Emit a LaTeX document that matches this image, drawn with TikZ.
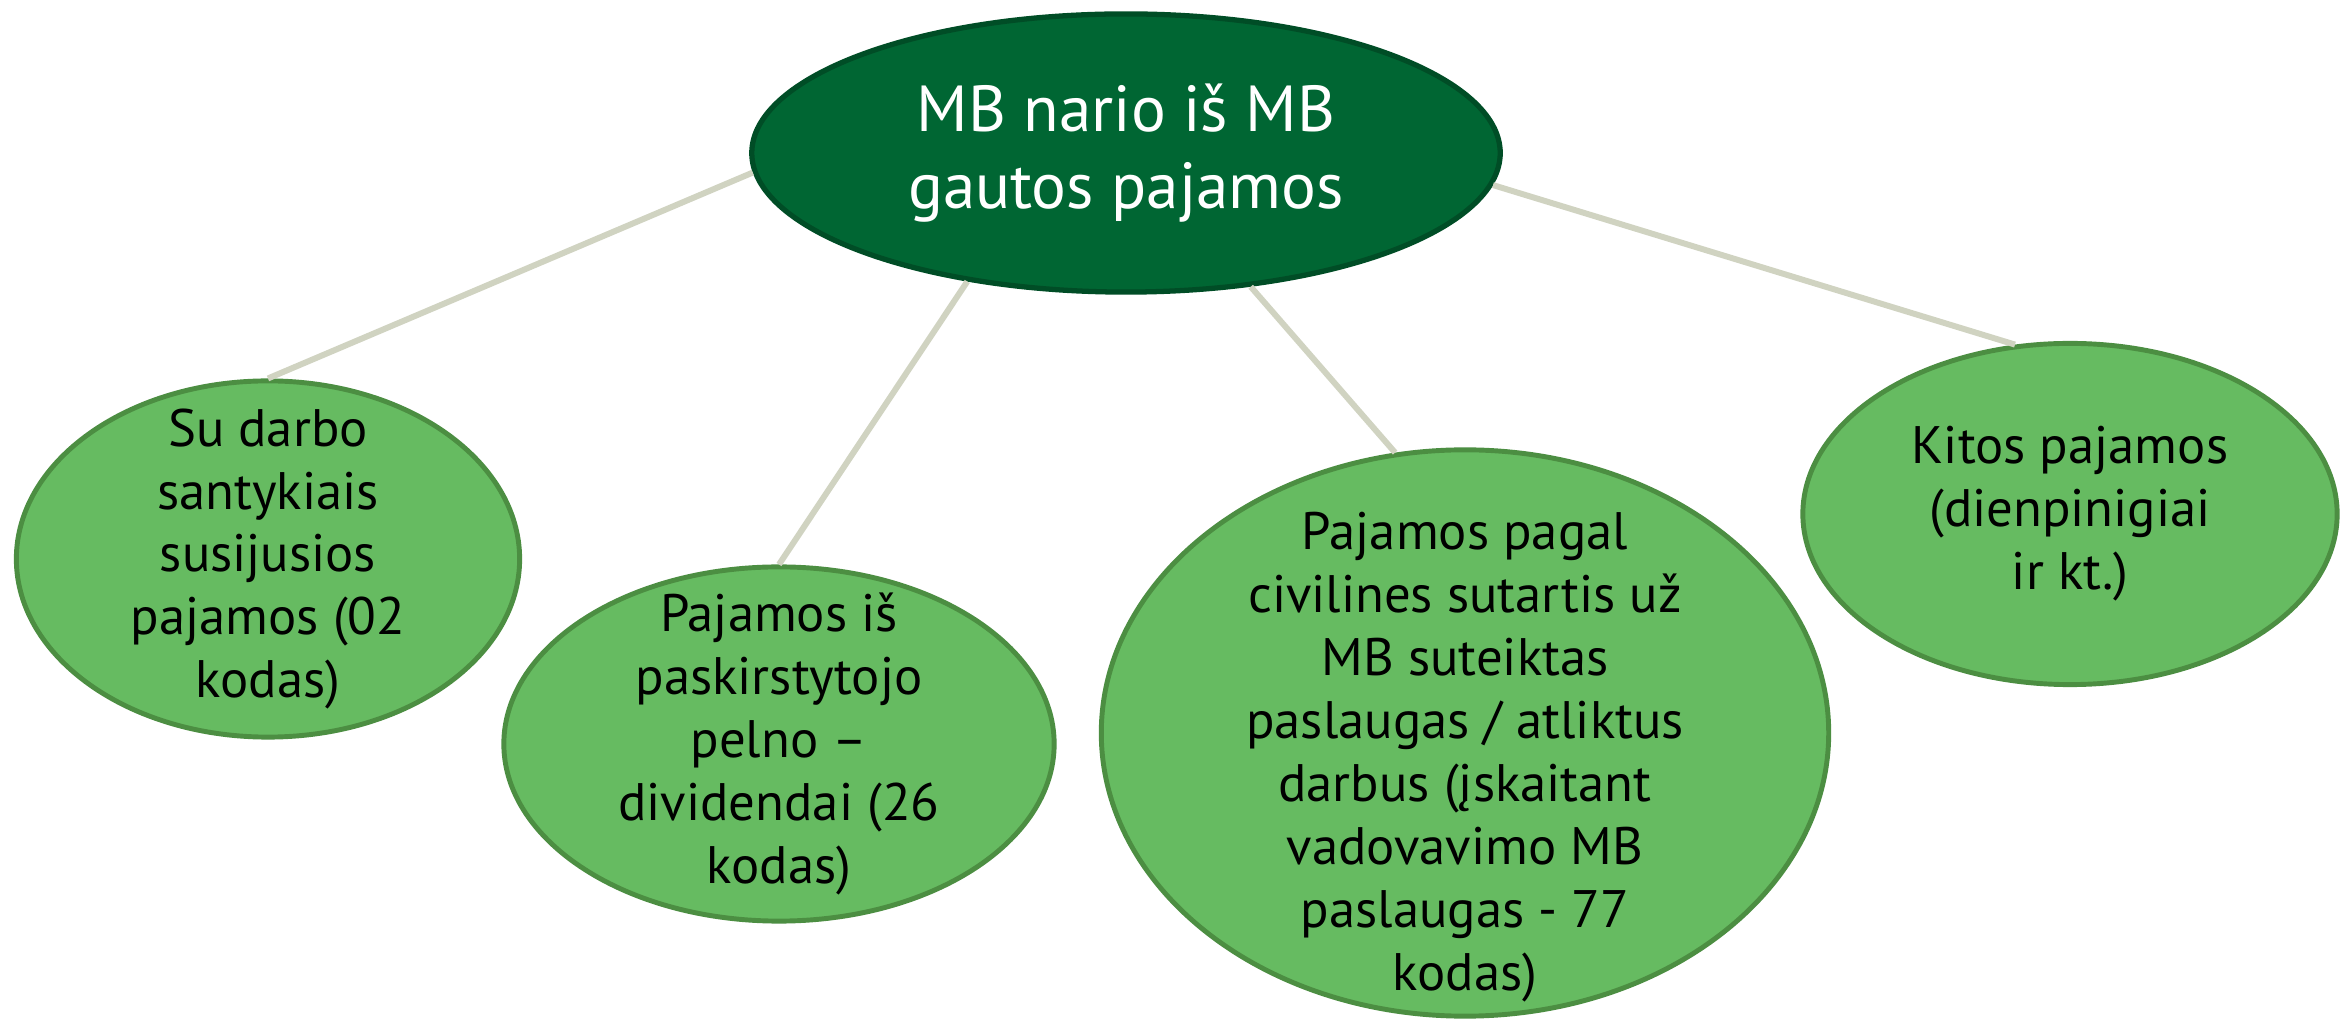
\documentclass[tikz,border=0pt]{standalone}
\usepackage{fontspec}
\setmainfont{PT Sans}
\usetikzlibrary{shapes.geometric}

\definecolor{topfill}{RGB}{0,102,51}
\definecolor{topline}{RGB}{0,77,38}
\definecolor{subfill}{RGB}{102,187,97}
\definecolor{subline}{RGB}{76,142,66}
\definecolor{linkgray}{RGB}{208,211,193}

\tikzset{
  topellipse/.style={ellipse,draw=topline,fill=topfill,line width=1.5pt,inner sep=0pt},
  subellipse/.style={ellipse,draw=subline,fill=subfill,line width=1.4pt,inner sep=0pt},
  toptext/.style={align=center,text=white,font=\fontsize{18.5pt}{22.1pt}\selectfont},
  subtext/.style={align=center,text=black,font=\fontsize{15pt}{17.9pt}\selectfont},
  link/.style={draw=linkgray,line width=1.7pt}
}

\begin{document}
\begin{tikzpicture}[x=0.01cm,y=-0.01cm]
        \useasboundingbox (0,0) rectangle (2351,1022);

        \node[topellipse,minimum width=7.48cm,minimum height=2.78cm](top) at (1126,153){};
        \node[toptext](toplbl) at (top.center){MB nario iš MB\\gautos pajamos};

        \node[subellipse,minimum width=5.03cm,minimum height=3.56cm](sub1) at (268,559){};
        \node[subellipse,minimum width=5.50cm,minimum height=3.54cm](sub2) at (779,744){};
        \node[subellipse,minimum width=7.27cm,minimum height=5.66cm](sub3) at (1465,733){};
        \node[subellipse,minimum width=5.34cm,minimum height=3.41cm](sub4) at (2070,514){};

        \node[subtext](lbl1) at (sub1.center){Su darbo\\santykiais\\susijusios\\pajamos (02\\kodas)};
        \node[subtext](lbl2) at (sub2.center){Pajamos iš\\paskirstytojo\\pelno –\\dividendai (26\\kodas)};
        \node[subtext](lbl3) at (1465,757){Pajamos pagal\\civilines sutartis už\\MB suteiktas\\paslaugas / atliktus\\darbus (įskaitant\\vadovavimo MB\\paslaugas - 77\\kodas)};
        \node[subtext](lbl4) at (sub4.center){Kitos pajamos\\(dienpinigiai\\ir kt.)};

        \draw[link](top.183.6)--(sub1.north);
        \draw[link](top.219)--(sub2.north);
        \draw[link](top.313)--(sub3.104.8);
        \draw[link](top.355.6)--(sub4.108.4);
\end{tikzpicture}
\end{document}
